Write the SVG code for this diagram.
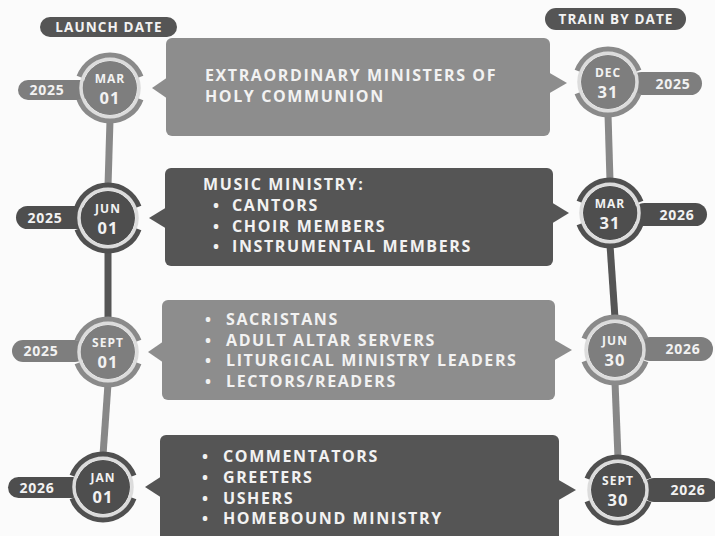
<svg xmlns="http://www.w3.org/2000/svg" width="715" height="536" viewBox="0 0 715 536">
<defs>
<style>
text{font-family:"Open Sans","Liberation Sans",sans-serif;font-weight:700;fill:#f2f2f2}
.lbox{fill:#8d8d8d}
.dbox{fill:#555555}
.lfill{fill:#7e7e7e}
.dfill{fill:#4e4e4e}
.larc{fill:none;stroke:#8a8a8a;stroke-width:5}
.darc{fill:none;stroke:#505050;stroke-width:5}
.ring{fill:none;stroke:#dcdcdc;stroke-width:3.5}
.lline{stroke:#888888;stroke-width:7}
.dline{stroke:#555555;stroke-width:7}
.item{font-size:16px;letter-spacing:1.6px}
.mon{font-size:12px;text-anchor:middle;letter-spacing:1px}
.day{font-size:16.5px;text-anchor:middle;letter-spacing:1px}
.yr{font-size:14px;text-anchor:middle;letter-spacing:0.8px}
.hdr{font-size:13.5px;text-anchor:middle;letter-spacing:1.1px}
</style>
<path id="arcs" d="M31.01,-11.29 A33,33 0 0 0 -31.01,-11.29 M-31.01,11.29 A33,33 0 0 0 31.01,11.29"/>
</defs>
<rect width="715" height="536" fill="#fbfbfb"/>

<g id="connectors">
<line class="lline" x1="110" y1="120" x2="108" y2="186"/>
<line class="dline" x1="108" y1="250" x2="108" y2="320"/>
<line class="lline" x1="108" y1="384" x2="103" y2="455"/>
<line class="lline" x1="608" y1="114" x2="610" y2="181"/>
<line class="dline" x1="610" y1="245" x2="615" y2="318"/>
<line class="lline" x1="615" y1="382" x2="618" y2="458"/>
</g>

<g id="header-launch">
<rect x="40" y="17" width="137" height="20" rx="10" class="dbox"/>
<text x="109" y="32" class="hdr">LAUNCH DATE</text>
</g>
<g id="header-train">
<rect x="545" y="8" width="141" height="22" rx="11" class="dbox"/>
<text x="616" y="24" class="hdr">TRAIN BY DATE</text>
</g>

<!-- Row 1 -->
<g id="box-1">
<rect x="166" y="38" width="384" height="98" rx="6" class="lbox"/>
<path d="M168,77 L152,88 L168,99 Z" class="lbox"/>
<path d="M548,72 L567,83 L548,94 Z" class="lbox"/>
<text class="item"><tspan x="205" y="81">EXTRAORDINARY MINISTERS OF</tspan><tspan x="205" y="102">HOLY COMMUNION</tspan></text>
</g>
<g id="launch-1">
<rect x="18" y="80" width="72" height="20" rx="10" class="lfill"/>
<text x="47" y="95" class="yr">2025</text>
<g transform="translate(110,88)">
<circle r="27" class="lfill"/>
<circle r="29" class="ring"/>
<use href="#arcs" class="larc"/>
<text x="0" y="-5.5" class="mon">MAR</text>
<text x="0" y="16" class="day">01</text>
</g>
</g>
<g id="train-1">
<rect x="630" y="72" width="72" height="23" rx="11.5" class="lfill"/>
<text x="673" y="88.5" class="yr">2025</text>
<g transform="translate(608,82)">
<circle r="27" class="lfill"/>
<circle r="29" class="ring"/>
<use href="#arcs" class="larc"/>
<text x="0" y="-5.5" class="mon">DEC</text>
<text x="0" y="16" class="day">31</text>
</g>
</g>

<!-- Row 2 -->
<g id="box-2">
<rect x="165" y="168" width="388" height="98" rx="6" class="dbox"/>
<path d="M167,207 L149,218 L167,229 Z" class="dbox"/>
<path d="M551,202 L569,213 L551,224 Z" class="dbox"/>
<text class="item"><tspan x="203" y="190">MUSIC MINISTRY:</tspan><tspan x="213" y="211">•</tspan><tspan x="232" y="211">CANTORS</tspan><tspan x="213" y="231.5">•</tspan><tspan x="232" y="231.5">CHOIR MEMBERS</tspan><tspan x="213" y="252">•</tspan><tspan x="232" y="252">INSTRUMENTAL MEMBERS</tspan></text>
</g>
<g id="launch-2">
<rect x="16" y="206" width="72" height="23" rx="11.5" class="dfill"/>
<text x="45" y="222.5" class="yr">2025</text>
<g transform="translate(108,218)">
<circle r="27" class="dfill"/>
<circle r="29" class="ring"/>
<use href="#arcs" class="darc"/>
<text x="0" y="-5.5" class="mon">JUN</text>
<text x="0" y="16" class="day">01</text>
</g>
</g>
<g id="train-2">
<rect x="633" y="203" width="74" height="23" rx="11.5" class="dfill"/>
<text x="677" y="219.5" class="yr">2026</text>
<g transform="translate(610,213)">
<circle r="27" class="dfill"/>
<circle r="29" class="ring"/>
<use href="#arcs" class="darc"/>
<text x="0" y="-5.5" class="mon">MAR</text>
<text x="0" y="16" class="day">31</text>
</g>
</g>

<!-- Row 3 -->
<g id="box-3">
<rect x="162" y="300" width="393" height="100" rx="6" class="lbox"/>
<path d="M164,341 L148,352 L164,363 Z" class="lbox"/>
<path d="M553,339 L572,350 L553,361 Z" class="lbox"/>
<text class="item"><tspan x="205" y="325">•</tspan><tspan x="226" y="325">SACRISTANS</tspan><tspan x="205" y="345.5">•</tspan><tspan x="226" y="345.5">ADULT ALTAR SERVERS</tspan><tspan x="205" y="366">•</tspan><tspan x="226" y="366">LITURGICAL MINISTRY LEADERS</tspan><tspan x="205" y="386.5">•</tspan><tspan x="226" y="386.5">LECTORS/READERS</tspan></text>
</g>
<g id="launch-3">
<rect x="12" y="340" width="74" height="22" rx="11" class="lfill"/>
<text x="41" y="356" class="yr">2025</text>
<g transform="translate(108,352)">
<circle r="27" class="lfill"/>
<circle r="29" class="ring"/>
<use href="#arcs" class="larc"/>
<text x="0" y="-5.5" class="mon">SEPT</text>
<text x="0" y="16" class="day">01</text>
</g>
</g>
<g id="train-3">
<rect x="638" y="337" width="75" height="24" rx="12" class="lfill"/>
<text x="683" y="354" class="yr">2026</text>
<g transform="translate(615,350)">
<circle r="27" class="lfill"/>
<circle r="29" class="ring"/>
<use href="#arcs" class="larc"/>
<text x="0" y="-5.5" class="mon">JUN</text>
<text x="0" y="16" class="day">30</text>
</g>
</g>

<!-- Row 4 -->
<g id="box-4">
<rect x="160" y="435" width="399" height="110" rx="6" class="dbox"/>
<path d="M162,476 L145,487 L162,498 Z" class="dbox"/>
<path d="M557,479 L576,490 L557,501 Z" class="dbox"/>
<text class="item"><tspan x="202" y="462">•</tspan><tspan x="223" y="462">COMMENTATORS</tspan><tspan x="202" y="483">•</tspan><tspan x="223" y="483">GREETERS</tspan><tspan x="202" y="503.5">•</tspan><tspan x="223" y="503.5">USHERS</tspan><tspan x="202" y="524">•</tspan><tspan x="223" y="524">HOMEBOUND MINISTRY</tspan></text>
</g>
<g id="launch-4">
<rect x="8" y="477" width="75" height="21" rx="10.5" class="dfill"/>
<text x="37" y="492.5" class="yr">2026</text>
<g transform="translate(103,487)">
<circle r="27" class="dfill"/>
<circle r="29" class="ring"/>
<use href="#arcs" class="darc"/>
<text x="0" y="-5.5" class="mon">JAN</text>
<text x="0" y="16" class="day">01</text>
</g>
</g>
<g id="train-4">
<rect x="642" y="478" width="76" height="24" rx="12" class="dfill"/>
<text x="688" y="495" class="yr">2026</text>
<g transform="translate(618,490)">
<circle r="27" class="dfill"/>
<circle r="29" class="ring"/>
<use href="#arcs" class="darc"/>
<text x="0" y="-5.5" class="mon">SEPT</text>
<text x="0" y="16" class="day">30</text>
</g>
</g>
</svg>
